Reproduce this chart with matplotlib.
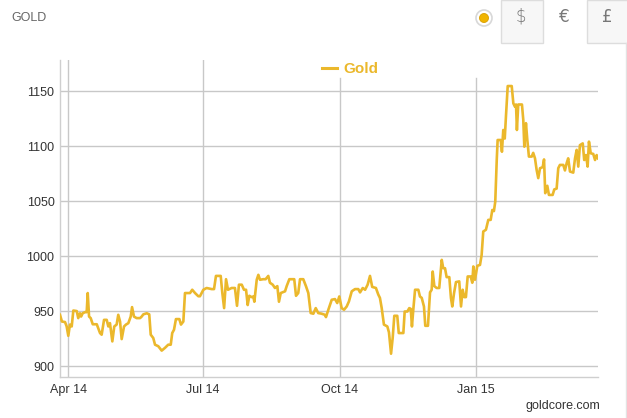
import matplotlib
matplotlib.use("Agg")
import matplotlib.pyplot as plt
import matplotlib.patches as mpatches
import pandas as pd

# ---- data ----
start_date = "2014-03-26 10:00"
day_offsets = [
    0, 1.3, 3.4, 4.5, 5.6, 6.7, 7.9, 9.0, 11.3, 12.3, 13.5, 14.2, 15.3, 16.9, 18.0, 18.7,
    19.6, 20.7, 22.1, 24.8, 27.0, 28.1, 29.7, 31.5, 32.6, 33.7, 35.3, 36.6, 38.2, 39.3,
    40.5, 41.6, 43.2, 44.5, 46.1, 47.7, 48.6, 49.9, 51.7, 54.0, 55.1, 56.2, 58.5, 60.2,
    61.2, 62.9, 64.1, 66.3, 68.6, 70.8, 73.0, 74.7, 75.7, 76.9, 78.2, 80.5, 81.6, 83.2,
    84.3, 87.7, 89.2, 91.1, 93.3, 94.4, 96.7, 98.9, 102.3, 103.9, 105.2, 108.4, 109.5,
    110.7, 112.0, 113.3, 115.8, 118.0, 119.4, 120.7, 122.6, 124.1, 125.5, 126.6, 127.7,
    129.3, 130.4, 131.1, 132.7, 133.8, 134.9, 137.1, 138.7, 140.5, 141.6, 143.5, 145.0,
    146.6, 147.7, 148.9, 151.8, 152.9, 154.7, 158.0, 159.2, 160.7, 161.9, 164.1, 165.9,
    167.5, 169.1, 170.9, 172.5, 174.2, 176.5, 178.7, 179.4, 181.0, 183.3, 185.5, 187.0,
    188.4, 190.0, 191.6, 193.4, 194.9, 196.8, 199.0, 201.2, 202.4, 204.2, 205.8, 207.5,
    209.1, 210.6, 213.1, 214.7, 215.8, 217.0, 218.5, 220.8, 221.9, 223.3, 224.4, 225.5,
    227.5, 228.5, 229.8, 231.6, 232.5, 234.3, 235.6, 236.6, 237.4, 238.3, 239.5, 241.7,
    242.8, 244.0, 245.5, 246.4, 248.2, 249.6, 250.7, 251.4, 252.5, 254.1, 255.8, 257.5,
    258.5, 259.7, 260.8, 262.6, 263.7, 264.6, 265.8, 267.1, 269.3, 270.5, 271.6, 272.7,
    273.8, 275.0, 277.0, 278.1, 278.8, 279.9, 281.5, 283.3, 284.4, 285.5, 287.3, 288.9,
    290.5, 291.6, 292.7, 293.6, 294.6, 295.2, 297.3, 298.1, 299.0, 300.0, 300.8, 302.0,
    304.7, 305.8, 306.9, 307.6, 308.2, 309.1, 311.6, 312.5, 313.2, 314.3, 315.2, 316.3,
    318.2, 319.2, 320.4, 321.5, 322.6, 323.8, 325.6, 326.5, 327.3, 328.7, 329.8, 332.3,
    333.4, 335.0, 336.1, 337.2, 339.5, 340.6, 341.8, 342.8, 344.0, 346.2, 347.4, 348.5,
    349.6, 350.7, 352.6, 353.6, 354.8, 355.9, 356.8, 358.0, 359.7, 360.9, 362.0, 362.9,
]
gold_eur = [
    946.6, 940.5, 940, 936, 927.5, 937.7, 936, 950.5, 950, 943.6, 948, 945, 948, 949, 949, 966.4,
    945, 943.6, 938, 938, 930, 928.5, 942, 942, 936, 939, 922.4, 936, 937.7, 946.6,
    940.5, 924.5, 936, 937.7, 939, 945, 953.6, 945, 943.6, 943.6, 945, 947, 948, 947,
    928.5, 925.5, 919.4, 918, 914, 916.5, 919.4, 919.4, 930, 933, 942.7, 942.7, 937.7, 940.5,
    966.4, 966.4, 969.4, 966.4, 963.5, 963.5, 969.4, 971, 970, 970, 982, 982, 966.4,
    952.7, 979, 969.4, 971, 971, 954.8, 974, 974, 969.4, 969.4, 955.5, 963.9,
    962.7, 963.3, 958.5, 978.5, 983, 978.5, 979, 979, 982, 975.8, 974, 971,
    972.7, 958.5, 966.4, 968, 972.7, 979, 979, 963.9, 966.4, 979, 979, 972.7,
    966.4, 948.2, 947.6, 952.7, 948.2, 947.6, 946.6, 944.5, 951.2, 960.3, 960.9, 957.3,
    963.3, 952.7, 951.2, 954.2, 958.8, 968, 970, 970, 967, 971, 969.4, 974,
    982, 972, 971, 965, 962, 952.7, 937.7, 936, 930.6, 911.2, 925.5, 945.7,
    945.7, 930, 930, 930, 949.6, 949.6, 952.7, 952, 936, 951.2, 969.4, 969.4,
    963.3, 962, 954.2, 936.6, 936.6, 967, 969.4, 986, 972.7, 971, 971, 996.6,
    989, 989, 980.9, 980.9, 962, 954.2, 966.4, 976.4, 977, 954.2, 969.4, 962.7,
    962.7, 981.5, 981.5, 975.8, 990.6, 978.5, 991.2, 992, 1001, 1022.4, 1024, 1033,
    1033, 1042, 1041, 1049.6, 1087.5, 1105.7, 1105.7, 1095, 1114.8, 1107, 1127, 1154.8,
    1154.8, 1139, 1136, 1138, 1114.8, 1138, 1138, 1124, 1099.6, 1121, 1106, 1090.6,
    1090.6, 1094, 1089, 1078.5, 1071, 1080, 1081, 1088, 1057.3, 1064, 1055.7, 1055.7,
    1060.7, 1061.5, 1080, 1083, 1083, 1078, 1084.8, 1089, 1077, 1076, 1089, 1096.7,
    1081.5, 1101, 1102.6, 1087.5, 1092, 1081.5, 1104.2, 1093.6, 1093, 1087.5, 1092, 1089,
]
series_name = "Gold"
x_tick_dates = ["2014-04-01", "2014-07-01", "2014-10-01", "2015-01-01"]
x_tick_labels = ["Apr 14", "Jul 14", "Oct 14", "Jan 15"]
y_ticks = [900, 950, 1000, 1050, 1100, 1150]
y_range = (890, 1178.5)
span_days = 362.9

# ---- style ----
W, H = 627, 418
GOLD = "#ebb82c"
GRID = "#c8c8c8"
TXT = "#333333"
FONT = "Liberation Sans"

plt.rcParams["font.family"] = [FONT, "DejaVu Sans"]

fig = plt.figure(figsize=(W / 100, H / 100), dpi=100)
fig.patch.set_facecolor("white")


def fx(px):
    return px / W


def fy(py):
    return 1 - py / H


ax = fig.add_axes([fx(60), fy(377), fx(598) - fx(60), (377 - 60) / H])

start = pd.Timestamp(start_date)
dates = start + pd.to_timedelta(day_offsets, unit="D")
ax.plot(dates, gold_eur, color=GOLD, lw=1.9, solid_joinstyle="round",
        label=series_name, zorder=3)

ax.set_xlim(start, start + pd.Timedelta(days=span_days))
ax.set_ylim(*y_range)

ax.set_yticks(y_ticks)
ax.set_yticklabels([str(v) for v in y_ticks])
tick_dates = pd.to_datetime(x_tick_dates)
ax.set_xticks(tick_dates)
ax.set_xticklabels(x_tick_labels)
ax.tick_params(axis="both", length=0, labelsize=9, colors=TXT)
ax.tick_params(axis="y", pad=4)
ax.tick_params(axis="x", pad=5)

for yv in y_ticks:
    ax.axhline(yv, color=GRID, lw=1.0, zorder=1)
short_top = (377 - 78) / 317
for i, d in enumerate(tick_dates):
    ax.axvline(d, ymin=0, ymax=1 if i < 2 else short_top, color=GRID, lw=1.0, zorder=1)

for s in ["top", "right"]:
    ax.spines[s].set_visible(False)
for s in ["left", "bottom"]:
    ax.spines[s].set_color("#cfcfcf")
    ax.spines[s].set_linewidth(1.0)

leg = ax.legend(loc="center", bbox_to_anchor=((350 - 60) / 538, (377 - 69) / 317),
                frameon=False, handlelength=1.0, handletextpad=0.4,
                prop={"family": FONT, "weight": "bold", "size": 11})
for t in leg.get_texts():
    t.set_color(GOLD)
for h in leg.get_lines():
    h.set_linewidth(2.2)

# ---- header widgets ----
fig.text(fx(11), fy(18), "GOLD", fontsize=9, color="#666666", va="center", ha="left")

# toggle circle with gold dot
fig.patches.append(mpatches.Ellipse((fx(484), fy(18)), width=16 / W, height=16 / H,
                                    transform=fig.transFigure, facecolor="white",
                                    edgecolor="#d8d8d8", lw=1.2))
fig.patches.append(mpatches.Ellipse((fx(484), fy(18)), width=9 / W, height=9 / H,
                                    transform=fig.transFigure, facecolor="#f0b400",
                                    edgecolor="#d99e00", lw=0.6))
# currency buttons
fig.patches.append(mpatches.Rectangle((fx(501), fy(43)), (543 - 501) / W, 43 / H,
                                      transform=fig.transFigure, facecolor="#f7f7f7",
                                      edgecolor="#dddddd", lw=1.0))
fig.patches.append(mpatches.Rectangle((fx(587), fy(43)), (640 - 587) / W, 43 / H,
                                      transform=fig.transFigure, facecolor="#f7f7f7",
                                      edgecolor="#dddddd", lw=1.0))
fig.text(fx(521), fy(17), "$", fontsize=12, color="#777777", ha="center", va="center",
         family="DejaVu Sans", fontweight="light")
fig.text(fx(564), fy(17), "€", fontsize=12, color="#777777", ha="center", va="center",
         family="DejaVu Sans")
fig.text(fx(607), fy(17), "£", fontsize=12, color="#777777", ha="center", va="center",
         family="DejaVu Sans")
# right edge line of widget
fig.add_artist(plt.Line2D([fx(626), fx(626)], [fy(43), 0], transform=fig.transFigure,
                          color="#e3e3e3", lw=1.0))

fig.text(fx(600), fy(406), "goldcore.com", fontsize=9, color=TXT, ha="right", va="center")

fig.savefig("out.png", dpi=100)
